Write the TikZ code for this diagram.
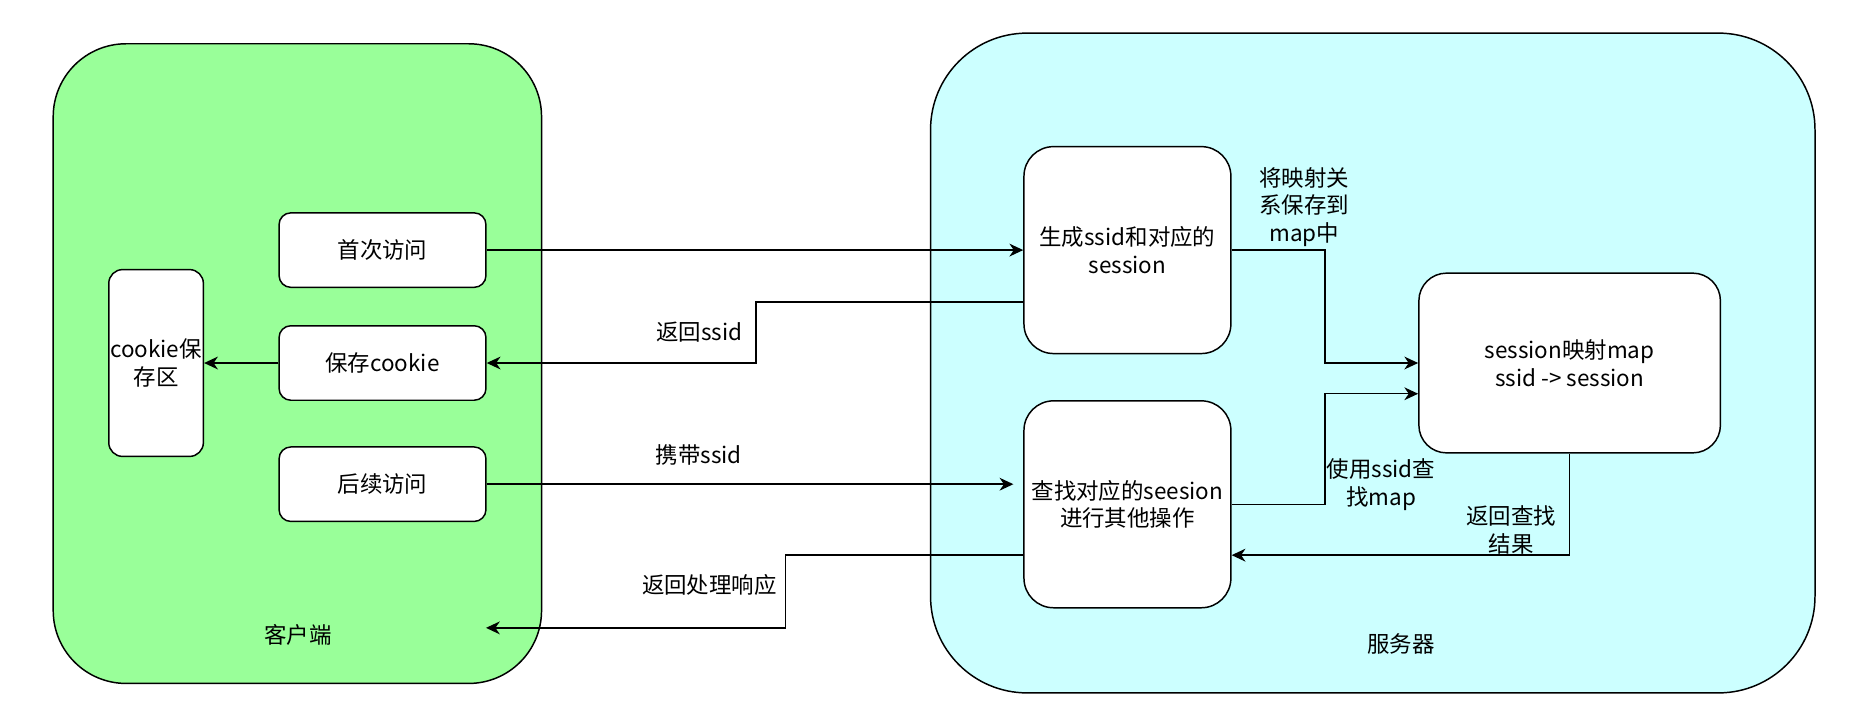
\documentclass[tikz,border=0pt]{standalone}
\usepackage{fontspec}
\newfontfamily\cjk{Noto Sans CJK SC}
\usetikzlibrary{arrows.meta,calc}
\definecolor{clientgreen}{HTML}{99FF99}
\definecolor{servercyan}{HTML}{CCFFFF}
\newcommand{\px}{0.6pt}
\tikzset{
  box/.style={draw, fill=white, rounded corners=#1, align=center, inner sep=0pt},
  box/.default=6pt,
  arr/.style={-{Stealth[length=7pt,width=6.5pt,inset=2.2pt]}},
}
\begin{document}
\begin{tikzpicture}[x=\px, y=-\px, line width=0.75pt, font=\cjk\fontsize{11.4}{14}\selectfont]
    \useasboundingbox (0,0) rectangle (1568,605.5);
    % containers
    \draw [fill=clientgreen, rounded corners=37pt] (45,37) rectangle (458,578);
    \draw [fill=servercyan, rounded corners=49pt] (787,28) rectangle (1535,586);
    \node at (252,537) {客户端};
    \node at (1185,545) {服务器};
    % client side
    \node [box, minimum width=175*\px, minimum height=63*\px] (first) at (323.5,211.5) {首次访问};
    \node [box, minimum width=175*\px, minimum height=63*\px] (save) at (323.5,307) {保存cookie};
    \node [box, minimum width=175*\px, minimum height=63*\px] (later) at (323.5,409.5) {后续访问};
    \node [box=7pt, minimum width=80*\px, minimum height=158*\px] (store) at (132,307) {cookie保\\存区};
    % server side
    \node [box=15pt, minimum width=175*\px, minimum height=175*\px] (gen) at (953.5,211.5) {生成ssid和对应的\\session};
    \node [box=15pt, minimum width=175*\px, minimum height=175*\px] (find) at (953.5,426.5) {查找对应的seesion\\进行其他操作};
    \node [box=14pt, minimum width=255*\px, minimum height=152*\px] (map) at (1327.5,307) {session映射map\\ssid -> session};
    \coordinate (reply) at (411,531);
    % requests and replies
    \draw [arr] (first) -- (gen);
    \draw [arr] ($(gen.west)+(0,44)$) -- ++(-226,0) |- (save.east);
    \node [left] at (634,281) {返回ssid};
    \draw [arr] (save) -- (store);
    \draw [arr, shorten >=5pt] (later.east) -- (later.east -| find.west);
    \node at (591,385) {携带ssid};
    \draw [arr] ($(find.west)+(0,43)$) -- ++(-201,0) |- (reply);
    \node at (600,495) {返回处理响应};
    % map lookups
    \draw [arr] (gen.east) -- ++(79,0) |- (map.west);
    \node [align=center] at (1103,175) {将映射关\\系保存到\\map中};
    \draw [arr] (find.east) -- ++(79,0) |- ($(map.west)+(0,26)$);
    \node [align=center] at (1168,410) {使用ssid查\\找map};
    \draw [arr] (map.south) |- ($(find.east)+(0,43)$);
    \node [align=center] at (1278,448) {返回查找\\结果};
\end{tikzpicture}
\end{document}
